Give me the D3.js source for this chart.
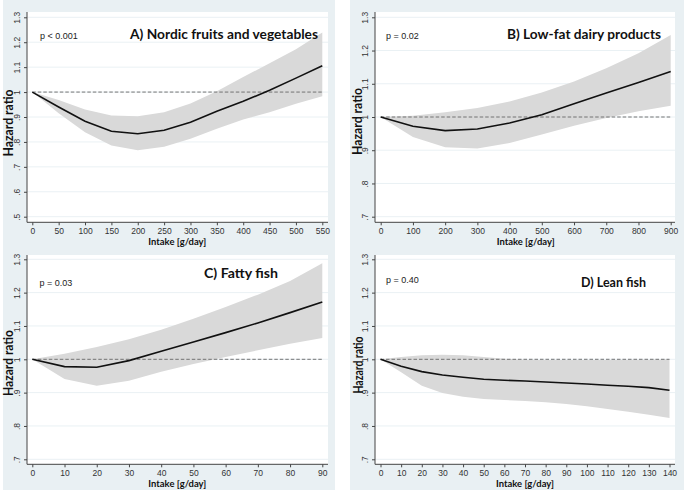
<!DOCTYPE html>
<html><head><meta charset="utf-8">
<script src="https://cdn.jsdelivr.net/npm/d3@7"></script>
<style>
html,body{margin:0;padding:0;background:#fff;}
svg{display:block;}
</style></head>
<body>
<svg id="chart" width="685" height="491"></svg>
<script>
// ---------------- DATA ----------------
const titles = ["A) Nordic fruits and vegetables", "B) Low-fat dairy products", "C) Fatty fish", "D) Lean fish"];
const pValues = ["p < 0.001", "p = 0.02", "p = 0.03", "p = 0.40"];
const yAxisTitle = "Hazard ratio";
const xAxisTitle = "Intake [g/day]";

const xA = [0, 50, 100, 150, 200, 250, 300, 350, 400, 450, 500, 550];
const hrA = [1.0, 0.940, 0.883, 0.843, 0.833, 0.847, 0.879, 0.923, 0.963, 1.007, 1.056, 1.106];
const loA = [1.0, 0.915, 0.839, 0.786, 0.767, 0.781, 0.813, 0.853, 0.890, 0.919, 0.953, 0.983];
const hiA = [1.0, 0.968, 0.930, 0.906, 0.903, 0.919, 0.954, 1.003, 1.060, 1.116, 1.172, 1.239];
const xTicksA = [0, 50, 100, 150, 200, 250, 300, 350, 400, 450, 500, 550];
const yTicksA = [0.5, 0.6, 0.7, 0.8, 0.9, 1.0, 1.1, 1.2, 1.3];
const yLabelsA = [".5", ".6", ".7", ".8", ".9", "1", "1.1", "1.2", "1.3"];

const xB = [0, 100, 200, 300, 400, 500, 600, 700, 800, 900];
const hrB = [1.0, 0.972, 0.959, 0.964, 0.982, 1.007, 1.040, 1.072, 1.104, 1.137];
const loB = [1.0, 0.940, 0.909, 0.905, 0.922, 0.947, 0.974, 0.997, 1.017, 1.034];
const hiB = [1.0, 1.004, 1.014, 1.027, 1.047, 1.074, 1.107, 1.147, 1.192, 1.247];
const xTicksB = [0, 100, 200, 300, 400, 500, 600, 700, 800, 900];
const yTicksB = [0.7, 0.8, 0.9, 1.0, 1.1, 1.2, 1.3];
const yLabelsB = [".7", ".8", ".9", "1", "1.1", "1.2", "1.3"];

const xC = [0, 10, 20, 30, 40, 50, 60, 70, 80, 90];
const hrC = [1.0, 0.978, 0.976, 0.996, 1.024, 1.052, 1.080, 1.109, 1.140, 1.172];
const loC = [1.0, 0.941, 0.921, 0.936, 0.963, 0.986, 1.007, 1.027, 1.047, 1.064];
const hiC = [1.0, 1.017, 1.037, 1.060, 1.089, 1.122, 1.157, 1.194, 1.235, 1.288];
const xTicksC = [0, 10, 20, 30, 40, 50, 60, 70, 80, 90];
const yTicksC = [0.7, 0.8, 0.9, 1.0, 1.1, 1.2, 1.3];
const yLabelsC = [".7", ".8", ".9", "1", "1.1", "1.2", "1.3"];

const xD = [0, 10, 20, 30, 40, 50, 60, 70, 80, 90, 100, 110, 120, 130, 140];
const hrD = [1.0, 0.979, 0.963, 0.953, 0.946, 0.940, 0.937, 0.935, 0.932, 0.929, 0.926, 0.922, 0.919, 0.915, 0.907];
const loD = [1.0, 0.961, 0.921, 0.899, 0.888, 0.881, 0.878, 0.875, 0.871, 0.866, 0.859, 0.851, 0.843, 0.834, 0.824];
const hiD = [1.0, 1.007, 1.012, 1.014, 1.012, 1.007, 1.002, 0.999, 0.998, 0.998, 0.998, 0.998, 0.999, 0.999, 1.0];
const xTicksD = [0, 10, 20, 30, 40, 50, 60, 70, 80, 90, 100, 110, 120, 130, 140];
const yTicksD = [0.7, 0.8, 0.9, 1.0, 1.1, 1.2, 1.3];
const yLabelsD = [".7", ".8", ".9", "1", "1.1", "1.2", "1.3"];

const referenceHR = 1.0;

// ---------------- LAYOUT ----------------
const panels = [
  {x: xA, hr: hrA, lo: loA, hi: hiA, xt: xTicksA, yt: yTicksA, yl: yLabelsA, title: titles[0], p: pValues[0],
   L: {x0: 32.3, x1: 322.3, yT: 17.3, yB: 216.7, ax: 27, ay: 222.3, pr: 328, pt: 12,
       tx: 318, tw: 188, ty: 38.5, px: 40, py: 38.5, hx: 8, hy: 123, hw: 67, ity: 244.5}},
  {x: xB, hr: hrB, lo: loB, hi: hiB, xt: xTicksB, yt: yTicksB, yl: yLabelsB, title: titles[1], p: pValues[1],
   L: {x0: 380.7, x1: 670.7, yT: 17.3, yB: 216.7, ax: 375, ay: 222.3, pr: 675, pt: 12,
       tx: 661, tw: 154, ty: 38.5, px: 386, py: 38.5, hx: 357.5, hy: 121.5, hw: 67, ity: 244.5}},
  {x: xC, hr: hrC, lo: loC, hi: hiC, xt: xTicksC, yt: yTicksC, yl: yLabelsC, title: titles[2], p: pValues[2],
   L: {x0: 32.3, x1: 322.3, yT: 259.3, yB: 459.3, ax: 27, ay: 464.3, pr: 328, pt: 255,
       tx: 278, tw: 74, ty: 277.5, px: 39.5, py: 285.5, hx: 8, hy: 363, hw: 66, ity: 487}},
  {x: xD, hr: hrD, lo: loD, hi: hiD, xt: xTicksD, yt: yTicksD, yl: yLabelsD, title: titles[3], p: pValues[3],
   L: {x0: 380.5, x1: 669.5, yT: 259.3, yB: 459.3, ax: 375, ay: 464.3, pr: 675, pt: 255,
       tx: 646, tw: 65, ty: 287, px: 386, py: 282.5, hx: 358.5, hy: 365, hw: 57, ity: 487}}
];

const svg = d3.select("#chart");
const BG = "#e9f0f3";
// column backgrounds
svg.append("rect").attr("x", 3).attr("y", 0).attr("width", 332).attr("height", 490).attr("fill", BG);
svg.append("rect").attr("x", 350).attr("y", 0).attr("width", 334).attr("height", 490).attr("fill", BG);

panels.forEach(pn => {
  const L = pn.L;
  const xs = d3.scaleLinear().domain([pn.xt[0], pn.xt[pn.xt.length - 1]]).range([L.x0, L.x1]);
  const ys = d3.scaleLinear().domain([pn.yt[0], pn.yt[pn.yt.length - 1]]).range([L.yB, L.yT]);
  const g = svg.append("g");

  // plot region
  g.append("rect").attr("x", L.ax).attr("y", L.pt).attr("width", L.pr - L.ax).attr("height", L.ay - L.pt).attr("fill", "#fff");

  // grid
  g.selectAll(".grid").data(pn.yt).enter().append("line")
    .attr("x1", L.ax).attr("x2", L.pr)
    .attr("y1", d => ys(d)).attr("y2", d => ys(d))
    .attr("stroke", "#eaf1f4").attr("stroke-width", 1);

  // CI band
  const rows = pn.x.map((v, i) => ({x: v, hr: pn.hr[i], lo: pn.lo[i], hi: pn.hi[i]}));
  g.append("path").datum(rows)
    .attr("d", d3.area().x(d => xs(d.x)).y0(d => ys(d.lo)).y1(d => ys(d.hi)))
    .attr("fill", "#d9d9d9").attr("stroke", "none");

  // reference line
  g.append("line").attr("x1", xs(pn.xt[0])).attr("x2", xs(pn.xt[pn.xt.length - 1]))
    .attr("y1", ys(referenceHR)).attr("y2", ys(referenceHR))
    .attr("stroke", "#666").attr("stroke-width", 0.9).attr("stroke-dasharray", "3.5,2");

  // HR line
  g.append("path").datum(rows)
    .attr("d", d3.line().x(d => xs(d.x)).y(d => ys(d.hr)))
    .attr("fill", "none").attr("stroke", "#111").attr("stroke-width", 1.6);

  // axes
  const yAx = g.append("g").attr("transform", `translate(${L.ax},0)`)
    .call(d3.axisLeft(ys).tickValues(pn.yt).tickFormat((d, i) => pn.yl[i]).tickSize(3));
  yAx.select(".domain").remove();
  yAx.selectAll("line").attr("stroke", "#444");
  yAx.selectAll("text")
    .attr("transform", "rotate(-90)").attr("x", 0).attr("y", -7).attr("dy", null)
    .attr("text-anchor", "middle")
    .attr("font-family", "'Liberation Sans', Arial, sans-serif").attr("font-size", 8.5).attr("fill", "#333");

  const xAx = g.append("g").attr("transform", `translate(0,${L.ay})`)
    .call(d3.axisBottom(xs).tickValues(pn.xt).tickFormat(d3.format("d")).tickSize(3).tickPadding(3));
  xAx.select(".domain").remove();
  xAx.selectAll("line").attr("stroke", "#444");
  xAx.selectAll("text")
    .attr("font-family", "'Liberation Sans', Arial, sans-serif").attr("font-size", 8.5).attr("fill", "#333");

  // axis lines
  g.append("line").attr("x1", L.ax).attr("x2", L.ax).attr("y1", L.pt).attr("y2", L.ay).attr("stroke", "#444").attr("stroke-width", 1);
  g.append("line").attr("x1", L.ax).attr("x2", L.pr).attr("y1", L.ay).attr("y2", L.ay).attr("stroke", "#444").attr("stroke-width", 1);

  // titles
  g.append("text").attr("x", L.tx).attr("y", L.ty).attr("text-anchor", "end")
    .attr("font-family", "Lato, 'Open Sans', sans-serif").attr("font-weight", "bold").attr("font-size", 14)
    .attr("textLength", L.tw).attr("lengthAdjust", "spacingAndGlyphs")
    .attr("fill", "#111").text(pn.title);

  g.append("text").attr("x", L.px).attr("y", L.py)
    .attr("font-family", "'Liberation Sans', Arial, sans-serif").attr("font-size", 9).attr("fill", "#222")
    .text(pn.p);

  g.append("text").attr("transform", `translate(${L.hx + 4.5},${L.hy}) rotate(-90)`)
    .attr("text-anchor", "middle")
    .attr("font-family", "Lato, 'Open Sans', sans-serif").attr("font-weight", "bold").attr("font-size", 13.5)
    .attr("textLength", L.hw).attr("lengthAdjust", "spacingAndGlyphs")
    .attr("fill", "#111").text(yAxisTitle);

  g.append("text").attr("x", (L.x0 + L.x1) / 2).attr("y", L.ity).attr("text-anchor", "middle")
    .attr("font-family", "Lato, 'Open Sans', sans-serif").attr("font-weight", "bold").attr("font-size", 9)
    .attr("textLength", 58).attr("lengthAdjust", "spacingAndGlyphs")
    .attr("fill", "#111").text(xAxisTitle);
});
</script>
</body></html>
